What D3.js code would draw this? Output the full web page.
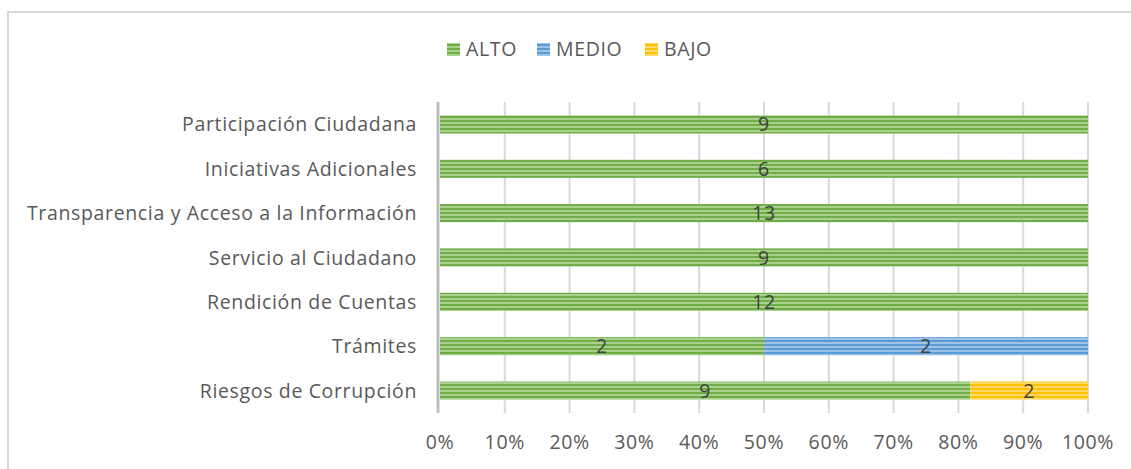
<!DOCTYPE html>
<html>
<head>
<meta charset="utf-8">
<script src="https://cdn.jsdelivr.net/npm/d3@7"></script>
<style>
  body { margin: 0; background: #fff; }
  text { font-family: "Open Sans", Lato, sans-serif; letter-spacing: 0.65px; }
</style>
</head>
<body>
<div id="chart"></div>
<script>
const categories = ["Riesgos de Corrupción", "Trámites", "Rendición de Cuentas",
    "Servicio al Ciudadano", "Transparencia y Acceso a la Información",
    "Iniciativas Adicionales", "Participación Ciudadana"];
const series = ["ALTO", "MEDIO", "BAJO"];
const alto = [9, 2, 12, 9, 13, 6, 9];
const medio = [0, 2, 0, 0, 0, 0, 0];
const bajo = [2, 0, 0, 0, 0, 0, 0];
const tickLabels = [0, 0.1, 0.2, 0.3, 0.4, 0.5, 0.6, 0.7, 0.8, 0.9, 1];

const w = 1131, h = 469;
const margin = {top: 102, right: 43, bottom: 56, left: 440};
const fontSize = 19.5;

const colors = {
    ALTO: ["#70ad47", "#a9d18e"],
    MEDIO: ["#5b9bd5", "#9dc3e6"],
    BAJO: ["#ffc000", "#ffd966"]
};

const rows = categories.map((c, i) => ({cat: c, ALTO: alto[i], MEDIO: medio[i], BAJO: bajo[i]}));

const svg = d3.select("#chart").append("svg")
    .attr("width", w)
    .attr("height", h);

// stripe patterns
const defs = svg.append("defs");
series.forEach(s => {
    const p = defs.append("pattern")
        .attr("id", "pat-" + s)
        .attr("patternUnits", "userSpaceOnUse")
        .attr("width", 8)
        .attr("height", 4);
    p.append("rect").attr("width", 8).attr("height", 4).attr("fill", colors[s][1]);
    p.append("rect").attr("width", 8).attr("height", 2).attr("fill", colors[s][0]);
});

// chart border
svg.append("rect")
    .attr("x", 8).attr("y", 12)
    .attr("width", w).attr("height", h)
    .attr("fill", "none")
    .attr("stroke", "#d9d9d9")
    .attr("stroke-width", 2);

const x = d3.scaleLinear()
    .domain([0, 1])
    .range([margin.left, w - margin.right]);

const y = d3.scaleBand()
    .domain(categories.slice().reverse())
    .range([margin.top, h - margin.bottom])
    .paddingInner(0.59)
    .paddingOuter(0.3);

// gridlines
svg.append("g")
    .selectAll("line")
    .data(tickLabels.slice(1))
    .enter()
    .append("line")
    .attr("x1", d => x(d)).attr("x2", d => x(d))
    .attr("y1", margin.top).attr("y2", h - margin.bottom)
    .attr("stroke", "#d9d9d9")
    .attr("stroke-width", 2);

// stacked bars (percent)
const stack = d3.stack().keys(series).offset(d3.stackOffsetExpand);
const layers = stack(rows);

layers.forEach(layer => {
    const key = layer.key;
    const g = svg.append("g");
    g.selectAll("rect")
        .data(layer.filter(d => d[1] - d[0] > 0))
        .enter()
        .append("rect")
        .attr("x", d => x(d[0]))
        .attr("y", d => y(d.data.cat))
        .attr("width", d => x(d[1]) - x(d[0]))
        .attr("height", y.bandwidth())
        .attr("fill", "url(#pat-" + key + ")");
    g.selectAll("text")
        .data(layer.filter(d => d[1] - d[0] > 0))
        .enter()
        .append("text")
        .attr("x", d => (x(d[0]) + x(d[1])) / 2)
        .attr("y", d => y(d.data.cat) + y.bandwidth() / 2 + 7)
        .attr("text-anchor", "middle")
        .attr("font-size", fontSize)
        .attr("fill", "#404040")
        .text(d => d.data[key]);
});

// category axis line
svg.append("line")
    .attr("x1", margin.left - 2).attr("x2", margin.left - 2)
    .attr("y1", margin.top).attr("y2", h - margin.bottom)
    .attr("stroke", "#bfbfbf")
    .attr("stroke-width", 3);

// category labels
svg.append("g")
    .selectAll("text")
    .data(categories)
    .enter()
    .append("text")
    .attr("x", margin.left - 23)
    .attr("y", d => y(d) + y.bandwidth() / 2 + 7)
    .attr("text-anchor", "end")
    .attr("font-size", fontSize)
    .attr("fill", "#595959")
    .text(d => d);

// percent tick labels
svg.append("g")
    .selectAll("text")
    .data(tickLabels)
    .enter()
    .append("text")
    .attr("x", d => x(d))
    .attr("y", 449)
    .attr("text-anchor", "middle")
    .attr("font-size", fontSize)
    .attr("fill", "#595959")
    .text(d => d3.format(".0%")(d));

// legend
const legendX = [447, 537, 645];
const legend = svg.append("g");
series.forEach((s, i) => {
    legend.append("rect")
        .attr("x", legendX[i]).attr("y", 43)
        .attr("width", 13).attr("height", 13)
        .attr("fill", "url(#pat-" + s + ")");
    legend.append("text")
        .attr("x", legendX[i] + 19).attr("y", 56)
        .attr("font-size", fontSize)
        .attr("fill", "#595959")
        .text(s);
});
</script>
</body>
</html>
